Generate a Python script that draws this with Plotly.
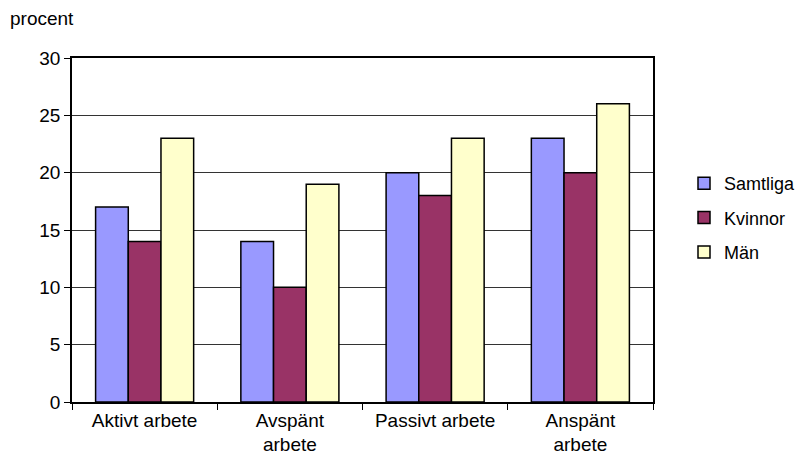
import plotly.graph_objects as go

categories = ["Aktivt arbete", "Avspänt<br>arbete", "Passivt arbete", "Anspänt<br>arbete"]
samtliga = [17, 14, 20, 23]
kvinnor = [14, 10, 18, 20]
man = [23, 19, 23, 26]
series_names = ["Samtliga", "Kvinnor", "Män"]
colors = ["#9999FF", "#993366", "#FFFFCC"]
y_ticks = [0, 5, 10, 15, 20, 25, 30]

FONT = dict(family="Liberation Sans, Arial, sans-serif", size=19, color="#000000")
LEGFONT = dict(family="Liberation Sans, Arial, sans-serif", size=18, color="#000000")

PW, PH = 581, 344  # plot area size

fig = go.Figure()
for name, vals, col in zip(series_names, [samtliga, kvinnor, man], colors):
    fig.add_trace(go.Bar(
        x=categories, y=vals, name=name, legendgroup=name,
        marker=dict(color=col, line=dict(color="#000000", width=1.5)),
    ))

fig.update_layout(
    width=797, height=465,
    margin=dict(l=72, r=144, t=58, b=63, autoexpand=False),
    paper_bgcolor="white", plot_bgcolor="white",
    font=FONT,
    barmode="group", bargap=0.325, bargroupgap=0,
    showlegend=True,
    legend=dict(x=(684 - 72) / PW, y=(402 - 218) / PH, yanchor="middle", xanchor="left",
                font=LEGFONT, traceorder="grouped", tracegroupgap=8, itemwidth=30,
                bgcolor="rgba(0,0,0,0)"),
    xaxis=dict(type="category", tickson="boundaries", ticks="outside", ticklen=6,
               tickcolor="#000", showline=True, linecolor="#000", linewidth=1.5,
               mirror=True, showgrid=False, tickfont=FONT, automargin=False),
    yaxis=dict(range=[0, 30], tickvals=y_ticks, ticks="outside", ticklen=6,
               tickcolor="#000", showline=True, linecolor="#000", linewidth=1.5,
               mirror=True, showgrid=True, gridcolor="#333333", gridwidth=1,
               zeroline=False, tickfont=FONT, automargin=False),
    annotations=[dict(text="procent", xref="paper", yref="paper",
                      x=(8 - 72) / PW, y=(402 - 18) / PH, xanchor="left", yanchor="middle",
                      showarrow=False, font=FONT)],
)

fig.write_html(
    "out.html",
    config={"displayModeBar": False},
    post_script="document.body.style.margin='0';document.body.style.overflow='hidden';",
)
